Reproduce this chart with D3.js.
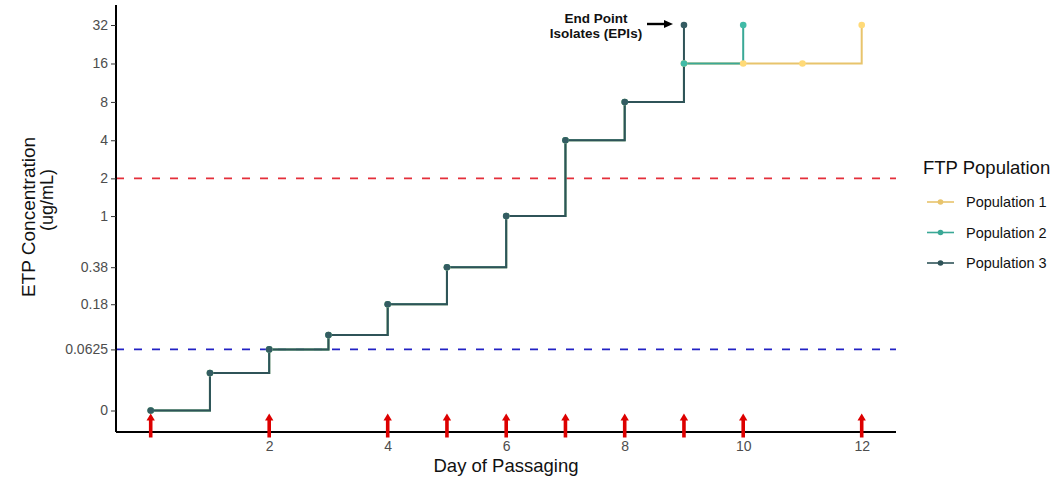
<!DOCTYPE html>
<html>
<head>
<meta charset="utf-8">
<script src="https://cdn.jsdelivr.net/npm/d3@7"></script>
<style>
  body { margin: 0; background: #fff; }
  text { font-family: "Liberation Sans", Arial, sans-serif; }
</style>
</head>
<body>
<svg id="chart" width="1059" height="479"></svg>
<script>
// data
const pop1Days = [0, 1, 2, 3, 4, 5, 6, 7, 8, 9, 10, 11, 12];
const pop1Vals = [0, 0.03, 0.0625, 0.09, 0.18, 0.38, 1, 4, 8, 16, 16, 16, 32];
const pop2Days = [0, 1, 2, 3, 4, 5, 6, 7, 8, 9, 10];
const pop2Vals = [0, 0.03, 0.0625, 0.09, 0.18, 0.38, 1, 4, 8, 16, 32];
const pop3Days = [0, 1, 2, 3, 4, 5, 6, 7, 8, 9];
const pop3Vals = [0, 0.03, 0.0625, 0.09, 0.18, 0.38, 1, 4, 8, 32];
const popNames = ["Population 1", "Population 2", "Population 3"];
const popColors = ["#e8c46c", "#3aa896", "#2f5358"];
const passageDays = [0, 2, 4, 5, 6, 7, 8, 9, 10, 12];
const yTicks = [0, 0.0625, 0.18, 0.38, 1, 2, 4, 8, 16, 32];
const yTickLabels = ["0", "0.0625", "0.18", "0.38", "1", "2", "4", "8", "16", "32"];
const xTicks = [2, 4, 6, 8, 10, 12];
const redLine = 2, blueLine = 0.0625;

const svg = d3.select("#chart");
const panel = {left: 116, right: 896, top: 5, bottom: 432};

const x = d3.scaleLinear().domain([0, 12]).range([150.7, 861.7]);
// y looks like log2(value + 1/32) -> symlog with that constant
const y = d3.scaleSymlog().constant(1 / 32).domain([0, 32]).range([410.5, 25]);

const series = [
  {name: popNames[0], color: popColors[0], pts: pop1Days.map((d, i) => [d, pop1Vals[i]])},
  {name: popNames[1], color: popColors[1], pts: pop2Days.map((d, i) => [d, pop2Vals[i]])},
  {name: popNames[2], color: popColors[2], pts: pop3Days.map((d, i) => [d, pop3Vals[i]])}
];

// reference lines
svg.append("line").attr("x1", panel.left).attr("x2", panel.right)
  .attr("y1", y(redLine)).attr("y2", y(redLine))
  .attr("stroke", "#e42f3a").attr("stroke-width", 1.7).attr("stroke-dasharray", "8,10");
svg.append("line").attr("x1", panel.left).attr("x2", panel.right)
  .attr("y1", y(blueLine)).attr("y2", y(blueLine))
  .attr("stroke", "#2222c4").attr("stroke-width", 1.7).attr("stroke-dasharray", "8,10");

// steps
const step = d3.line().x(d => x(d[0])).y(d => y(d[1])).curve(d3.curveStepAfter);
series.forEach(s => {
  svg.append("path").attr("d", step(s.pts)).attr("fill", "none")
    .attr("stroke", s.color).attr("stroke-width", 2);
});
series.forEach(s => {
  svg.selectAll(null).data(s.pts).enter().append("circle")
    .attr("cx", d => x(d[0])).attr("cy", d => y(d[1])).attr("r", 3.3)
    .attr("fill", d3.color(s.color).brighter(0.3));
});

// axes
const yAxis = d3.axisLeft(y).tickValues(yTicks).tickFormat((d, i) => yTickLabels[i]).tickSize(5).tickPadding(3);
const gy = svg.append("g").attr("transform", `translate(${panel.left},0)`).call(yAxis);
gy.select(".domain").attr("d", `M0,${panel.top}V${panel.bottom}`).attr("stroke", "#000").attr("stroke-width", 2);

const xAxis = d3.axisBottom(x).tickValues(xTicks).tickSize(5).tickPadding(4);
const gx = svg.append("g").attr("transform", `translate(0,${panel.bottom})`).call(xAxis);
gx.select(".domain").attr("d", `M${panel.left},0H${panel.right}`).attr("stroke", "#000").attr("stroke-width", 2);

[gx, gy].forEach(g => {
  g.selectAll(".tick line").attr("stroke", "#333");
  g.selectAll(".tick text").attr("fill", "#4d4d4d").style("font-size", "14px")
    .style("font-family", "'Liberation Sans', Arial, sans-serif");
});

// red arrows at passages
const arrows = svg.selectAll(".passage").data(passageDays).enter().append("g")
  .attr("class", "passage").attr("transform", d => `translate(${x(d)},0)`);
arrows.append("line").attr("x1", 0).attr("x2", 0)
  .attr("y1", panel.bottom + 5.5).attr("y2", panel.bottom - 12)
  .attr("stroke", "#dd0000").attr("stroke-width", 3.6);
arrows.append("path")
  .attr("d", `M-4.2,${panel.bottom - 11.5}L0,${panel.bottom - 18.5}L4.2,${panel.bottom - 11.5}Z`)
  .attr("fill", "#dd0000");

// annotation
svg.append("line").attr("x1", 647).attr("x2", 665).attr("y1", y(32) - 1).attr("y2", y(32) - 1)
  .attr("stroke", "#000").attr("stroke-width", 2.4);
svg.append("path")
  .attr("d", `M664,${y(32) - 5}L673,${y(32) - 1}L664,${y(32) + 3}Z`).attr("fill", "#000");
const ann = svg.append("text").attr("text-anchor", "middle").attr("font-weight", "bold")
  .style("font-size", "13.5px").attr("fill", "#111");
ann.append("tspan").attr("x", 596).attr("y", 23).text("End Point");
ann.append("tspan").attr("x", 596).attr("y", 37.5).text("Isolates (EPIs)");

// axis titles
svg.append("text").attr("x", 506).attr("y", 472)
  .attr("text-anchor", "middle").style("font-size", "18.5px").attr("fill", "#111")
  .text("Day of Passaging");
svg.append("text").attr("transform", "translate(35,217) rotate(-90)")
  .attr("text-anchor", "middle").style("font-size", "19px").attr("fill", "#111")
  .text("ETP Concentration");
svg.append("text").attr("transform", "translate(53,200) rotate(-90)")
  .attr("text-anchor", "middle").style("font-size", "18px").attr("fill", "#111")
  .text("(ug/mL)");

// legend
const lg = svg.append("g").attr("transform", "translate(918,0)");
lg.append("text").attr("x", 5).attr("y", 174).style("font-size", "18.5px").attr("fill", "#111")
  .text("FTP Population");
series.forEach((s, i) => {
  const ly = 202 + i * 30.5;
  lg.append("line").attr("x1", 9).attr("x2", 36).attr("y1", ly).attr("y2", ly)
    .attr("stroke", s.color).attr("stroke-width", 1.6);
  lg.append("circle").attr("cx", 22.5).attr("cy", ly).attr("r", 2.8).attr("fill", s.color);
  lg.append("text").attr("x", 48).attr("y", ly + 5).style("font-size", "14.5px").attr("fill", "#111")
    .text(s.name);
});
</script>
</body>
</html>
